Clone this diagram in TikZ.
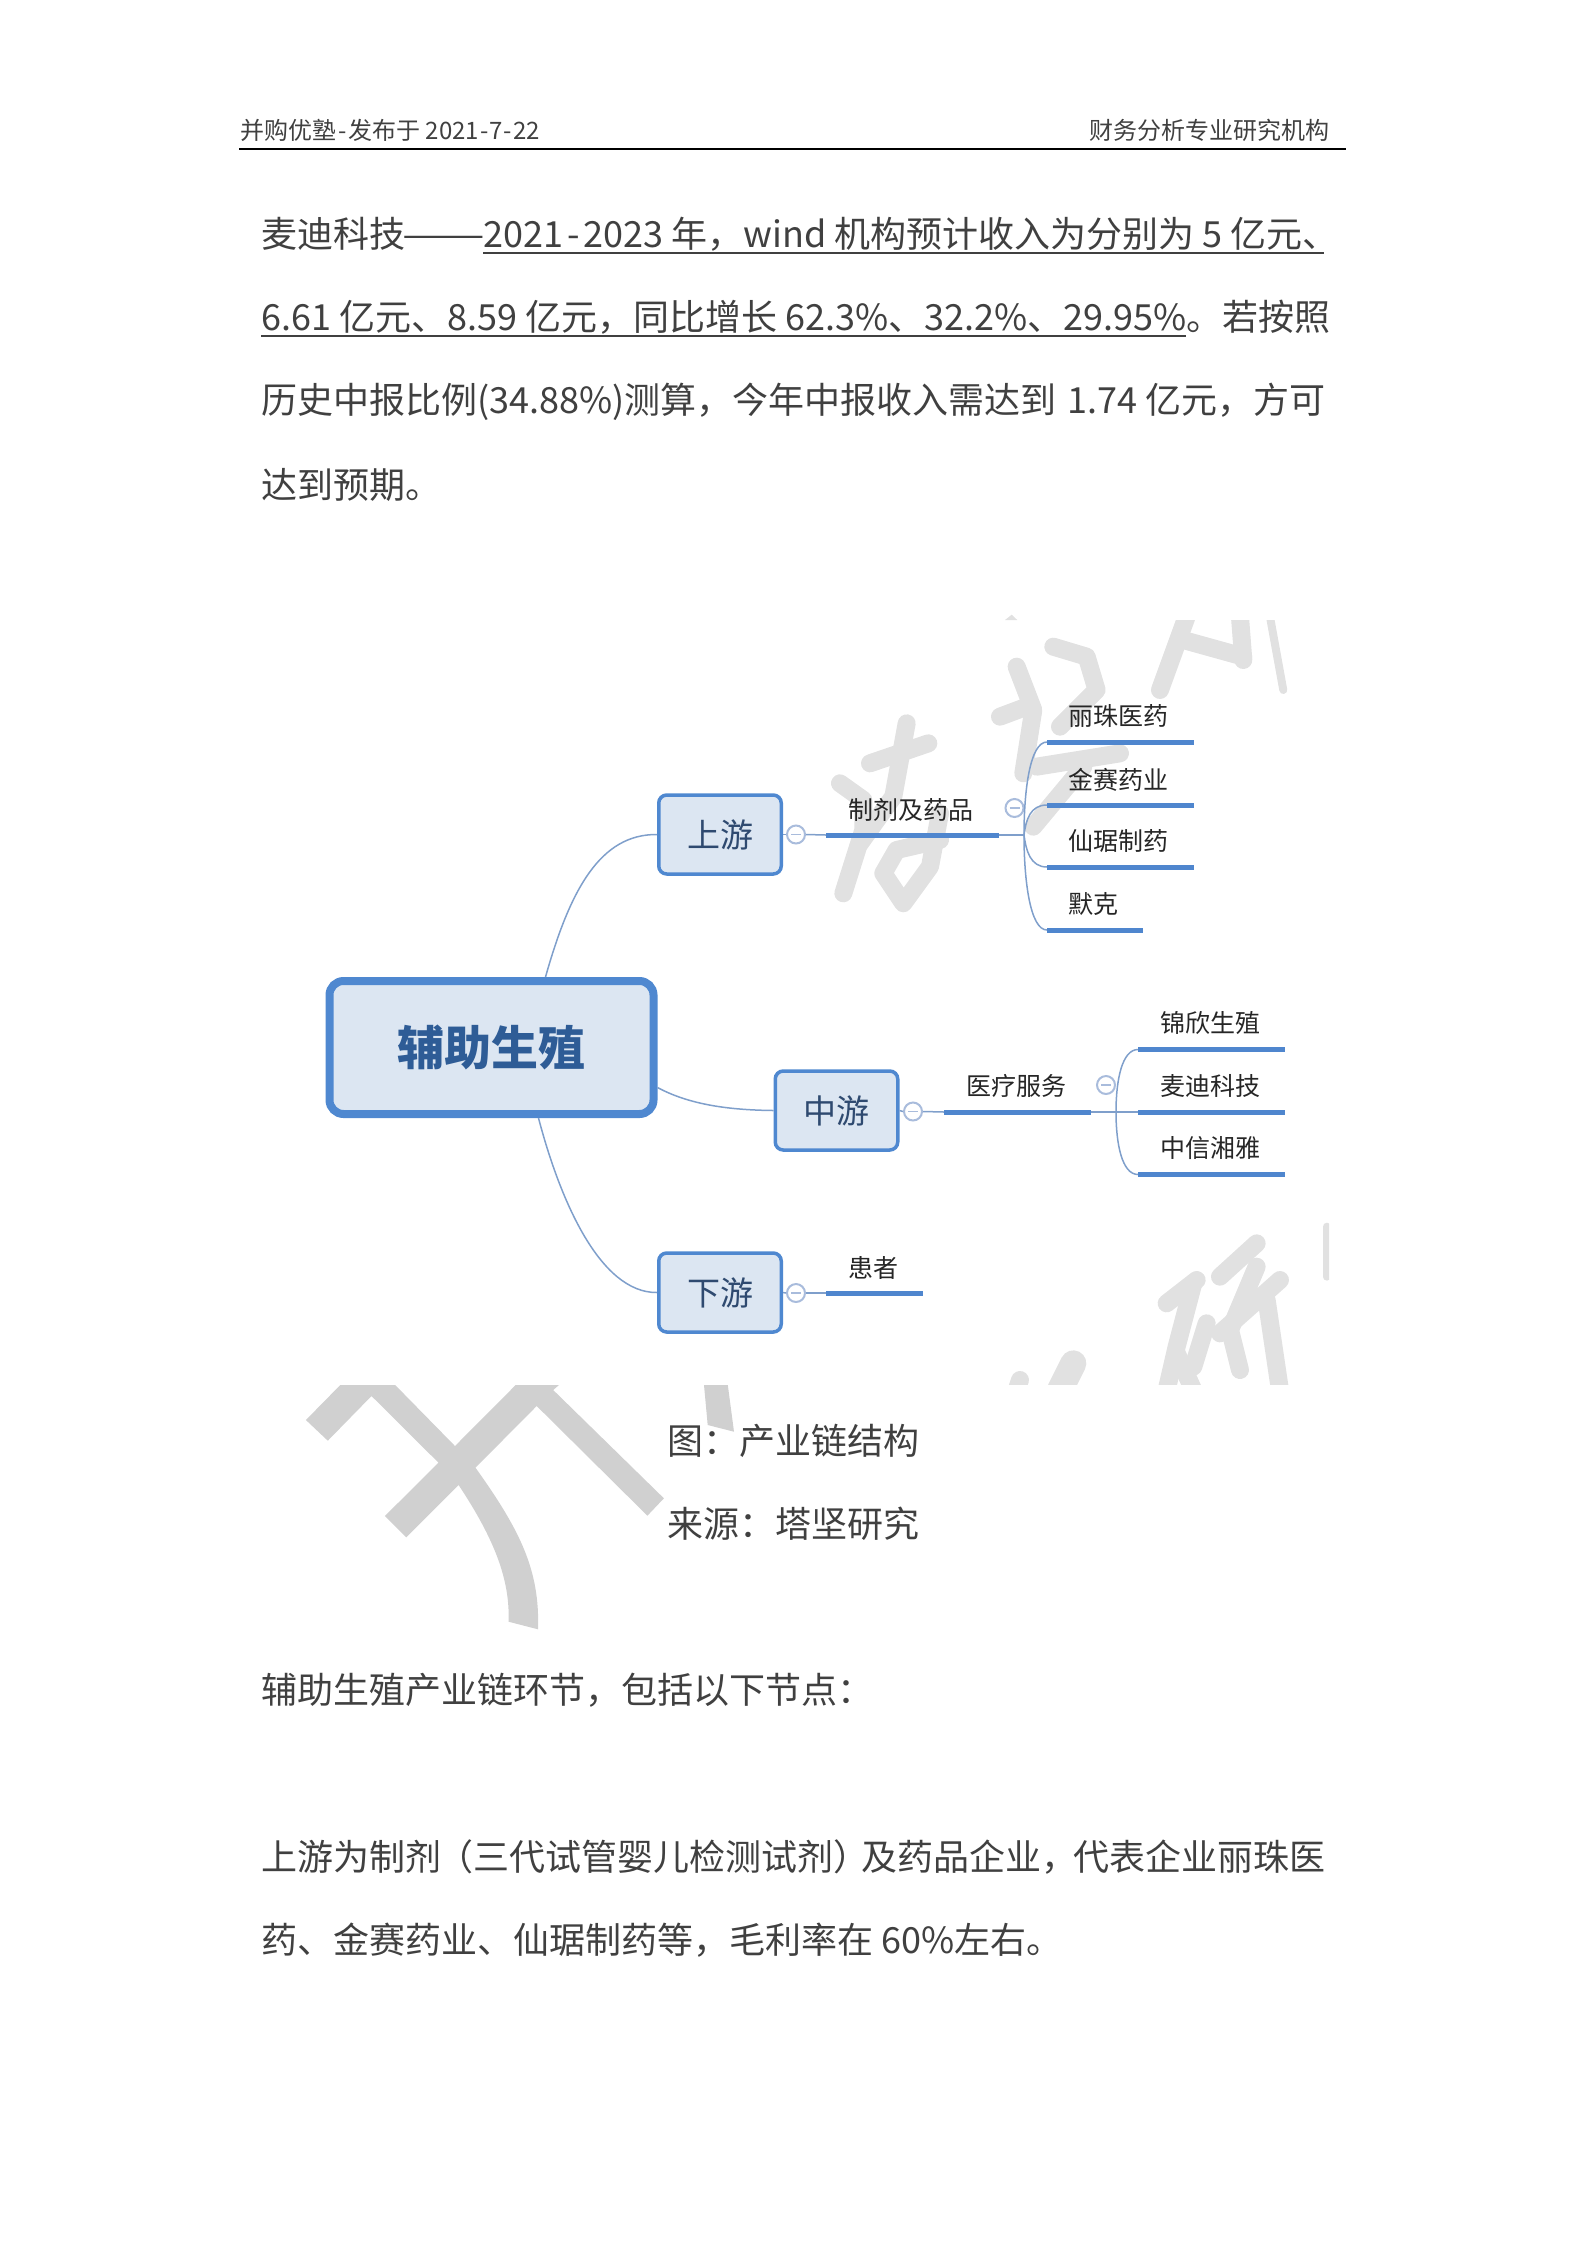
\documentclass[tikz,border=0pt]{standalone}
\usepackage{graphicx}
\usepackage{fontspec}
\setmainfont{Noto Sans CJK SC}
\definecolor{bodygray}{HTML}{404040}
\definecolor{markgray}{HTML}{D0D0D0}
\definecolor{inkgray}{HTML}{E1E1E1}
\definecolor{boxfill}{HTML}{DCE6F2}
\definecolor{boxblue}{HTML}{4F88D0}
\definecolor{barblue}{HTML}{4F86CE}
\definecolor{twigblue}{HTML}{7F9FCB}
\definecolor{toggleblue}{HTML}{A9BCDC}
\definecolor{rootink}{HTML}{2E5C96}
\definecolor{midink}{HTML}{2F4A70}
\tikzset{
  pagetext/.style={anchor=west, inner sep=0pt, text=bodygray, text height=30pt, text depth=6pt, font=\fontsize{36}{36}\selectfont},
  headtext/.style={inner sep=0pt, text=bodygray, font=\fontsize{24}{24}\selectfont},
  rootbox/.style={draw=boxblue, fill=boxfill, line width=8pt, rounded corners=14pt, minimum width=324pt, minimum height=133pt, text=rootink, font=\fontsize{47}{47}\selectfont\bfseries},
  midbox/.style={draw=boxblue, fill=boxfill, line width=3.5pt, rounded corners=8pt, minimum width=122.5pt, minimum height=79pt, text=midink, font=\fontsize{33}{33}\selectfont},
  leaftext/.style={inner sep=0pt, text=black!85, font=\fontsize{25}{25}\selectfont},
  togglebox/.style={circle, draw=toggleblue, fill=white, line width=2pt, minimum size=18pt, inner sep=0pt,
    path picture={\draw[toggleblue, line width=1.2pt] ([xshift=4pt]path picture bounding box.west) -- ([xshift=-4pt]path picture bounding box.east);}},
  barline/.style={draw=barblue, line width=5pt},
  twig/.style={draw=twigblue, line width=1.5pt},
  inkstroke/.style={draw=inkgray, line width=18pt, line cap=round, line join=round},
}
\begin{document}
\begin{tikzpicture}[x=1pt, y=-1pt]
  \useasboundingbox (0,0) rectangle (1586,2244);

  % watermark inside the figure
  \fill[inkgray] (1005,620) -- (1011.7,614.7) -- (1017.3,620) -- cycle;
  \begin{scope}
    \clip (261,620) rectangle (1329,1384.5);
    \begin{scope}[shift={(820,610)}, x=0.3333pt, y=-0.3333pt]
      \draw[inkstroke] (60,520) -- (130,570) -- (130,660) -- (70,850);
      \draw[inkstroke] (150,460) -- (325,400);
      \draw[inkstroke] (260,340) -- (220,560) -- (120,700);
      \draw[inkstroke] (360,610) -- (330,770) -- (250,880) -- (190,790) -- (230,720) -- (360,690);
      \draw[inkstroke] (590,170) -- (640,300) -- (610,490);
      \draw[inkstroke] (540,320) -- (620,290);
      \draw[inkstroke] (700,110) -- (800,140) -- (830,240) -- (720,350);
      \draw[inkstroke] (650,470) -- (900,430);
      \draw[inkstroke] (640,650) -- (790,470);
      \draw[inkstroke] (1100,20) -- (1020,240);
      \draw[inkstroke] (1090,90) -- (1270,140);
      \draw[inkstroke] (1260,20) -- (1270,150);
      \draw[inkstroke, line width=8pt] (1350,20) -- (1390,240);
    \end{scope}
    \begin{scope}[shift={(980,1200)}, x=0.3333pt, y=-0.3333pt]
      \draw[inkstroke] (650,240) -- (560,310);
      \draw[inkstroke] (640,250) -- (590,440) -- (560,570);
      \draw[inkstroke] (680,370) -- (640,500);
      \draw[inkstroke] (590,460) -- (640,570);
      \draw[inkstroke] (830,130) -- (720,230);
      \draw[inkstroke] (830,200) -- (750,390) -- (780,510);
      \draw[inkstroke] (900,240) -- (720,400);
      \draw[inkstroke] (860,300) -- (900,570);
      \draw[inkstroke, line width=8pt] (1040,80) -- (1040,230);
      \draw[inkstroke, line width=26pt] (280,490) -- (240,570);
      \draw[inkstroke] (120,540) -- (110,570);
    \end{scope}
  \end{scope}

  % large watermark below the figure
  \fill[markgray] (340.3,1385) -- (305.9,1420) -- (327.8,1440.7) -- (371.5,1396) -- (438.5,1462.7)
    -- (384.9,1516) -- (406.3,1537.3) -- (458.6,1485) .. controls (495,1540) and (510,1580) .. (508.6,1621.7)
    -- (538,1629.3) .. controls (540,1570) and (520,1530) .. (475.5,1467.7) -- (536.7,1406)
    -- (647.4,1515.7) -- (663.9,1498.3) -- (553.2,1390) -- (559,1385) -- (515.7,1385) -- (455,1446)
    -- (395.2,1385) -- cycle;
  \fill[markgray] (704,1385) -- (707.7,1425) -- (734,1431.7) -- (727.8,1385) -- cycle;

  % page header
  \node[headtext, anchor=west] (headleft) at (240,130) {并购优塾\kern2pt-\kern2pt发布于 2021\kern1pt-\kern1pt7\kern1pt-\kern1pt22};
  \node[headtext, anchor=east] (headright) at (1330,130) {财务分析专业研究机构};
  \draw[black, line width=2.5pt] (239,149) -- (1346,149);

  % page text
  \node[pagetext] (lineone) at (261,235) {麦迪科技\makebox[78pt]{\scalebox{1.37}[1]{——}}2021\kern4pt-\kern4pt2023 年，wind 机构预计收入为分别为 5 亿元、};
  \node[pagetext] (linetwo) at (261,318) {6.61 亿元、8.59 亿元，同比增长 62.3\%、32.2\%、29.95\%。若按照};
  \node[pagetext] (linethree) at (261,401) {历史中报比例(34.88\%)测算，今年中报收入需达到\kern3pt{} 1.74 亿元，方可};
  \node[pagetext] (linefour) at (261,486) {达到预期。};
  \draw[bodygray, line width=1.5pt] (483,253) -- (1324,253);
  \draw[bodygray, line width=1.5pt] (261,336) -- (1186,336);

  % mind map
  \node[rootbox] (root) at (491.5,1047.5) {辅助生殖};
  \node[midbox] (up) at (720,834.5) {上游};
  \node[midbox] (mid) at (836.5,1110.5) {中游};
  \node[midbox] (down) at (720,1292.5) {下游};

  \draw[twig] ([xshift=54pt]root.north) .. controls (570,890) and (600,834) .. (up.west);
  \draw[twig] ([yshift=-40pt]root.east) .. controls (690,1105) and (730,1110) .. (mid.west);
  \draw[twig] ([xshift=47pt]root.south) .. controls (560,1200) and (600,1293) .. (down.west);

  \node[togglebox] (upt) at (796,834.5) {};
  \node[togglebox] (midt) at (913,1111.5) {};
  \node[togglebox] (downt) at (796,1293) {};
  \node[togglebox] (drugt) at (1014.5,808) {};
  \node[togglebox] (caret) at (1106,1085) {};

  \node[leaftext] (drug) at (911,810) {制剂及药品};
  \node[leaftext] (care) at (1016.5,1086) {医疗服务};
  \node[leaftext] (patient) at (873.5,1268) {患者};
  \node[leaftext] (lizhu) at (1118,716) {丽珠医药};
  \node[leaftext] (jinsai) at (1118,780) {金赛药业};
  \node[leaftext] (xianju) at (1118,841) {仙琚制药};
  \node[leaftext] (merck) at (1093,904) {默克};
  \node[leaftext] (jinxin) at (1210,1023.5) {锦欣生殖};
  \node[leaftext] (maidi) at (1210,1086) {麦迪科技};
  \node[leaftext] (citic) at (1210,1148) {中信湘雅};

  \coordinate (drugl) at (826,835);
  \coordinate (drugr) at (999,835);
  \coordinate (drugj) at (1024,835);
  \coordinate (carel) at (944,1112);
  \coordinate (carer) at (1091,1112);
  \coordinate (carej) at (1116,1112);
  \coordinate (patl) at (826,1293);
  \coordinate (patr) at (923,1293);
  \coordinate (lizhul) at (1047,742);
  \coordinate (lizhur) at (1194,742);
  \coordinate (jinsail) at (1047,805);
  \coordinate (jinsair) at (1194,805);
  \coordinate (xianjul) at (1047,867);
  \coordinate (xianjur) at (1194,867);
  \coordinate (merckl) at (1047,930);
  \coordinate (merckr) at (1143,930);
  \coordinate (jinxinl) at (1138,1049.5);
  \coordinate (jinxinr) at (1285,1049.5);
  \coordinate (maidil) at (1138,1112);
  \coordinate (maidir) at (1285,1112);
  \coordinate (citicl) at (1138,1174.5);
  \coordinate (citicr) at (1285,1174.5);

  \draw[twig] (up.east) -- (upt.west);
  \draw[twig] (upt.east) -- (drugl);
  \draw[twig] (drugr) -- (drugj);
  \draw[twig] (mid.east) -- (midt.west);
  \draw[twig] (midt.east) -- (carel);
  \draw[twig] (carer) -- (carej);
  \draw[twig] (down.east) -- (downt.west);
  \draw[twig] (downt.east) -- (patl);

  \draw[twig] (drugj) .. controls (1024,790) and (1030,742) .. (lizhul);
  \draw[twig] (drugj) .. controls (1026,820) and (1030,805) .. (jinsail);
  \draw[twig] (drugj) .. controls (1026,850) and (1030,867) .. (xianjul);
  \draw[twig] (drugj) .. controls (1024,880) and (1030,930) .. (merckl);
  \draw[twig] (carej) .. controls (1116,1080) and (1122,1049.5) .. (jinxinl);
  \draw[twig] (carej) -- (maidil);
  \draw[twig] (carej) .. controls (1116,1144) and (1122,1174.5) .. (citicl);

  \draw[barline] (drugl) -- (drugr);
  \draw[barline] (carel) -- (carer);
  \draw[barline] (patl) -- (patr);
  \draw[barline] (lizhul) -- (lizhur);
  \draw[barline] (jinsail) -- (jinsair);
  \draw[barline] (xianjul) -- (xianjur);
  \draw[barline] (merckl) -- (merckr);
  \draw[barline] (jinxinl) -- (jinxinr);
  \draw[barline] (maidil) -- (maidir);
  \draw[barline] (citicl) -- (citicr);

  % caption and lower text
  \node[pagetext] (figtitle) at (667,1442) {图：产业链结构};
  \node[pagetext] (figsource) at (667,1525) {来源：塔坚研究};
  \node[pagetext] (lowerone) at (261,1691) {辅助生殖产业链环节，包括以下节点：};
  \node[pagetext] (lowertwo) at (261,1858) {上游为制剂\kern-4pt（三代试管婴儿检测试剂）\kern-7.5pt 及药品企业，\kern-4.5pt 代表企业丽珠医};
  \node[pagetext] (lowerthree) at (261,1941) {药、金赛药业、仙琚制药等，毛利率在 60\%左右。};
\end{tikzpicture}
\end{document}
